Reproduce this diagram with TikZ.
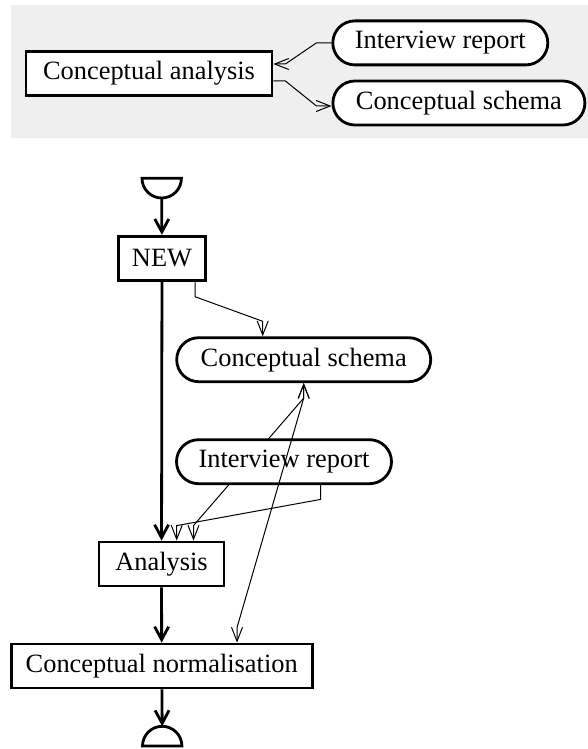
\documentclass[tikz,border=0pt]{standalone}
\usepackage{fontspec}
\setmainfont{Liberation Serif}
\usetikzlibrary{arrows.meta}
\definecolor{legendgray}{RGB}{239,239,239}

\begin{document}
\begin{tikzpicture}[x=1pt,y=1pt,
  process node/.style={draw,line width=2.8pt,fill=white,inner sep=0pt,minimum height=44pt,font=\fontsize{26.4}{30}\selectfont},
  data node/.style={process node,rounded corners=22pt},
  flow/.style={line width=2.8pt,-{Straight Barb[length=13pt,width=14pt]}},
  data line/.style={line width=1pt,-{Straight Barb[length=14pt,width=11pt]}},
  data both/.style={line width=1pt,{Straight Barb[length=14pt,width=11pt]}-{Straight Barb[length=14pt,width=11pt]}}]
  \useasboundingbox (0,0) rectangle (588,-749);

  % legend
  \fill[legendgray] (11,-5) rectangle (588,-138);
  \node[process node,minimum width=246pt] (ca) at (149,-73.5) {Conceptual analysis};
  \node[data node,minimum width=215pt] (lir) at (440.3,-42.9) {Interview report};
  \node[data node,minimum width=252pt] (lcs) at (458.9,-103) {Conceptual schema};
  \draw[data line] (lir.west) -- ++(-15,0) -- ([xshift=12pt,yshift=9.5pt]ca.east) -- ([yshift=9.5pt]ca.east);
  \draw[data line] ([yshift=-7.5pt]ca.east) -- ++(12,0) -- ([xshift=-15pt,yshift=-3pt]lcs.west) -- ([yshift=-3pt]lcs.west);

  % decomposition
  \draw[line width=2.8pt] (142,-178.3) -- (181.4,-178.3) arc (0:-180:19.7) -- cycle;
  \coordinate (start) at (161.7,-198);
  \node[process node,minimum width=87pt] (new) at (162,-258.3) {NEW};
  \node[data node,minimum width=254pt] (cs) at (303.7,-359.7) {Conceptual schema};
  \node[process node,minimum width=125pt] (an) at (161.5,-564) {Analysis};
  \node[process node,minimum width=301pt] (cn) at (161.7,-666) {Conceptual normalisation};
  \draw[line width=2.8pt] (142.5,-746) arc (180:0:19.7) -- cycle;
  \coordinate (stop) at (162.2,-726.3);

  \draw[data both] (cs.south) -- ++(0,-15) -- ([xshift=32pt,yshift=15pt]an.north) -- ([xshift=32pt]an.north);
  \node[data node,minimum width=215pt] (ir) at (284,-461.7) {Interview report};

  \draw[flow] (start) -- (new);
  \draw[flow] (new) -- (an);
  \draw[flow] (an) -- (cn);
  \draw[flow] (cn) -- (stop);
  \draw[data line] ([xshift=33pt]new.south) -- ++(0,-15) -- ([xshift=-41pt,yshift=15pt]cs.north) -- ([xshift=-41pt]cs.north);
  \draw[data line] ([xshift=36.7pt]ir.south) -- ++(0,-14.3) -- ([xshift=15.2pt,yshift=15pt]an.north) -- ([xshift=15.2pt]an.north);
  \draw[data both] (cs.south) -- ++(0,-15) -- ([xshift=75.3pt,yshift=15pt]cn.north) -- ([xshift=75.3pt]cn.north);
\end{tikzpicture}
\end{document}
